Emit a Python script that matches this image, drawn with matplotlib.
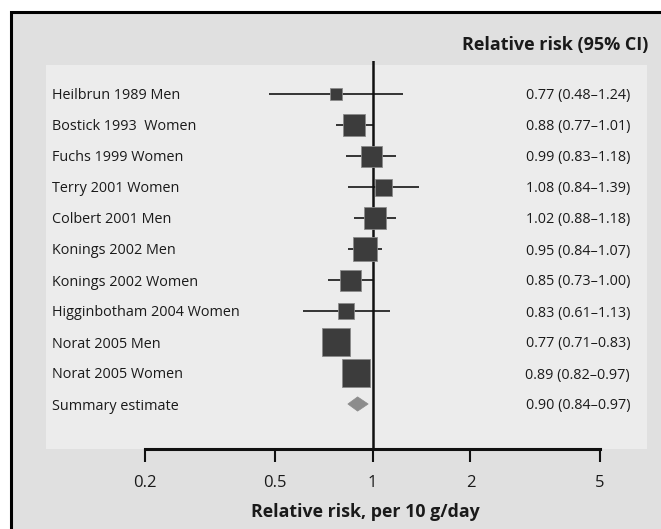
import matplotlib
matplotlib.use("Agg")
import matplotlib.pyplot as plt
from matplotlib.patches import Rectangle, Polygon
import numpy as np

plt.rcParams['font.family'] = ['Open Sans', 'DejaVu Sans']

studies = ["Heilbrun 1989 Men", "Bostick 1993  Women", "Fuchs 1999 Women",
           "Terry 2001 Women", "Colbert 2001 Men", "Konings 2002 Men",
           "Konings 2002 Women", "Higginbotham 2004 Women", "Norat 2005 Men",
           "Norat 2005 Women"]
rr = [0.77, 0.88, 0.99, 1.08, 1.02, 0.95, 0.85, 0.83, 0.77, 0.89]
lo = [0.48, 0.77, 0.83, 0.84, 0.88, 0.84, 0.73, 0.61, 0.71, 0.82]
hi = [1.24, 1.01, 1.18, 1.39, 1.18, 1.07, 1.00, 1.13, 0.83, 0.97]
# square widths (px), reflecting study weights as drawn
weights_px = [12, 22, 21, 17, 22, 24, 21, 16, 28.5, 28.5]

summary_label = "Summary estimate"
summary = (0.90, 0.84, 0.97)

ticks = [0.2, 0.5, 1, 2, 5]
tick_labels = ["0.2", "0.5", "1", "2", "5"]

W, H, DPI = 661, 529, 100
fig = plt.figure(figsize=(W / DPI, H / DPI), dpi=DPI, facecolor="white")

def fx(px):
    return px / W

def fy(py):
    return 1 - py / H

# outer frame
frame = Rectangle((fx(10.5), fy(540)), fx(700), (540 - 11.5) / H,
                  transform=fig.transFigure, facecolor="#e0e0e0",
                  edgecolor="black", linewidth=2.2, zorder=-2)
fig.patches.append(frame)

# inner panel
panel = Rectangle((fx(46), fy(449)), fx(647 - 46), (449 - 65) / H,
                  transform=fig.transFigure, facecolor="#ececec",
                  edgecolor="none", zorder=-1)
fig.patches.append(panel)

# axes covering panel area (top at vertical line start)
ax_left, ax_right, ax_top, ax_bot = 46, 647, 61, 449
ax = fig.add_axes([fx(ax_left), fy(ax_bot), fx(ax_right - ax_left), (ax_bot - ax_top) / H])
ax.set_zorder(2)
ax.set_facecolor("none")
ax.set_xscale("log")
ppd = 325.5  # pixels per decade
x1 = 372.5
ax.set_xlim(10 ** ((ax_left - x1) / ppd), 10 ** ((ax_right - x1) / ppd))
row0, step = 94, 31
ax.set_ylim(10 + (ax_bot - (row0 + 10 * step)) / step, -(row0 - ax_top) / step)

n = len(studies)
ys = np.arange(n)
for i in range(n):
    ax.plot([lo[i], hi[i]], [ys[i], ys[i]], color="#333333", lw=1.4,
            solid_capstyle="butt", zorder=2)
    ax.plot(rr[i], ys[i], marker="s", markersize=weights_px[i] * 0.72,
            markerfacecolor="#3c3c3c", markeredgecolor="#8a8a8a",
            markeredgewidth=0.6, zorder=3)

# summary diamond
sy = n
est, slo, shi = summary
hh = 0.23
ax.add_patch(Polygon([(slo, sy), (est, sy - hh), (shi, sy), (est, sy + hh)],
                     closed=True, facecolor="#8c8c8c", edgecolor="#8c8c8c",
                     lw=0.5, zorder=3))

# line of no effect
ax.axvline(1, color="#111111", lw=1.8, zorder=2.5)

# labels
FS = 10.4
lab_x = 10 ** ((52 - x1) / ppd)
val_x = 10 ** ((630 - x1) / ppd)
for i in range(n):
    ax.text(lab_x, ys[i], studies[i], ha="left", va="center_baseline", fontsize=FS,
            color="#1a1a1a")
    ax.text(val_x, ys[i], f"{rr[i]:.2f} ({lo[i]:.2f}\u2013{hi[i]:.2f})",
            ha="right", va="center_baseline", fontsize=FS, color="#1a1a1a")
ax.text(lab_x, sy, summary_label, ha="left", va="center_baseline", fontsize=FS,
        color="#1a1a1a")
ax.text(val_x, sy, f"{est:.2f} ({slo:.2f}\u2013{shi:.2f})", ha="right",
        va="center_baseline", fontsize=FS, color="#1a1a1a")

# header
fig.text(fx(648), fy(43), "Relative risk (95% CI)", ha="right", va="center_baseline",
         fontsize=13, fontweight="bold", color="#1a1a1a")

# x axis
for s in ["top", "left", "right"]:
    ax.spines[s].set_visible(False)
ax.spines["bottom"].set_bounds(ticks[0], ticks[-1])
ax.spines["bottom"].set_linewidth(2.2)
ax.spines["bottom"].set_color("#111111")
ax.set_yticks([])
ax.set_xticks(ticks)
ax.set_xticklabels(tick_labels)
ax.xaxis.set_minor_locator(matplotlib.ticker.NullLocator())
ax.tick_params(axis="x", direction="out", length=9, width=1.5, color="#111111",
               pad=10, labelsize=12, labelcolor="#1a1a1a")
fig.text(fx(365), fy(510), "Relative risk, per 10 g/day", ha="center",
         va="center_baseline", fontsize=12.8, fontweight="bold", color="#1a1a1a")

fig.savefig("out.png", dpi=DPI, facecolor="white")
